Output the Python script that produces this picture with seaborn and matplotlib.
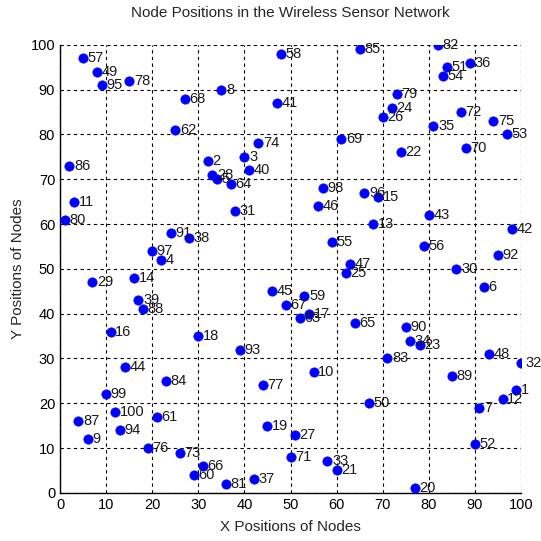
import matplotlib
matplotlib.use("Agg")
import matplotlib.pyplot as plt
import seaborn as sns
import pandas as pd

node_ids = list(range(1, 101))
node_x = [99, 32, 40, 22, 34, 92, 91, 35, 6, 55,
          3, 96, 68, 16, 69, 11, 54, 30, 45, 77,
          60, 74, 78, 72, 62, 70, 51, 33, 7, 86,
          38, 100, 58, 76, 81, 89, 42, 28, 17, 41,
          47, 98, 80, 14, 46, 56, 63, 93, 8, 67,
          84, 90, 97, 83, 59, 79, 5, 48, 53, 29,
          21, 25, 52, 37, 64, 31, 49, 27, 61, 88,
          50, 87, 26, 43, 94, 19, 44, 15, 73, 1,
          36, 82, 71, 23, 65, 2, 4, 18, 85, 75,
          24, 95, 39, 13, 9, 66, 20, 57, 10, 12]
node_y = [23, 74, 75, 52, 70, 46, 19, 90, 12, 27,
          65, 21, 60, 48, 66, 36, 40, 35, 15, 1,
          5, 76, 33, 86, 49, 84, 13, 71, 47, 50,
          63, 29, 7, 34, 82, 96, 3, 57, 43, 72,
          87, 59, 62, 28, 45, 64, 51, 31, 94, 20,
          95, 11, 80, 93, 56, 55, 97, 98, 44, 4,
          17, 81, 39, 69, 38, 6, 42, 88, 79, 77,
          8, 85, 9, 78, 83, 10, 24, 92, 89, 61,
          2, 100, 30, 25, 99, 73, 16, 41, 26, 37,
          58, 53, 32, 14, 91, 67, 54, 68, 22, 18]
x_ticks = list(range(0, 101, 10))
y_ticks = list(range(0, 101, 10))

df = pd.DataFrame({"x": node_x, "y": node_y, "id": node_ids})

sns.set_style("white")
fam = ["Liberation Sans Narrow", "Liberation Sans", "DejaVu Sans"]
plt.rcParams["font.family"] = fam

fig = plt.figure(figsize=(5.41, 5.41), dpi=100)
ax = fig.add_axes([0.111, 0.089, 0.852, 0.828])

sns.scatterplot(data=df, x="x", y="y", ax=ax, color="#0000ff", s=45,
                edgecolor="#0000ff", linewidth=0.5, zorder=3, legend=False)

for xi, yi, ni in zip(node_x, node_y, node_ids):
    ax.text(xi + 1.0, yi, str(ni), fontsize=10.5, va="center", ha="left",
            color="#1a1a1a", zorder=4)

ax.set_xlim(0, 100)
ax.set_ylim(0, 100)
ax.set_xticks(x_ticks)
ax.set_yticks(y_ticks)
ax.tick_params(axis="both", direction="in", labelsize=10.5, length=4, colors="black")
ax.grid(True, color="black", linestyle=(0, (3, 3)), linewidth=0.8)
ax.set_axisbelow(True)
for side in ["top", "right"]:
    ax.spines[side].set_visible(False)
for side in ["left", "bottom"]:
    ax.spines[side].set_color("black")
    ax.spines[side].set_linewidth(1.0)

ax.set_xlabel("X Positions of Nodes", fontsize=11, labelpad=6)
ax.set_ylabel("Y Positions of Nodes", fontsize=11)
ax.set_title("Node Positions in the Wireless Sensor Network", fontsize=11, pad=20)

fig.savefig("out.png", dpi=100, facecolor="white")
